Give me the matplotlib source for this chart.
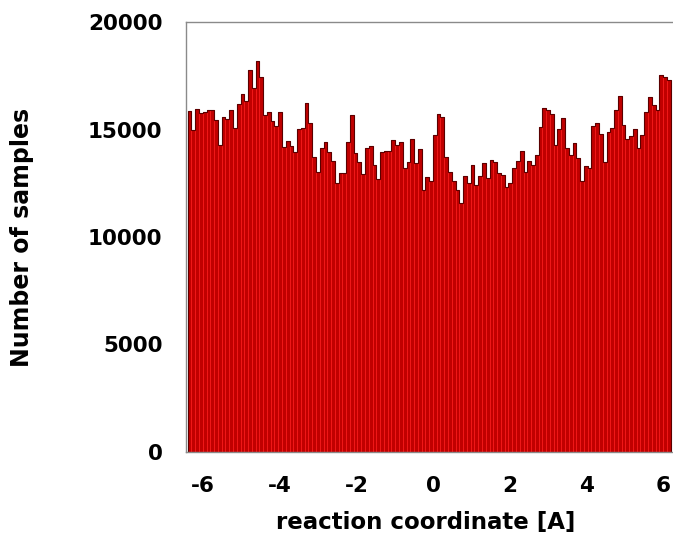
import numpy as np
import matplotlib
matplotlib.use("Agg")
import matplotlib.pyplot as plt

# histogram of samples along the reaction coordinate (128 bins, -6.4 .. 6.2)
bin_lo = -6.4
bin_hi = 6.2
counts = [
    15860, 14980, 15950, 15750, 15800, 15900, 15900, 15440, 14280, 15600,
    15500, 15900, 15070, 16200, 16630, 16330, 17770, 16950, 18190, 17460,
    15670, 15830, 15400, 15180, 15800, 14200, 14470, 14250, 13970, 15020,
    15090, 16250, 15290, 13740, 13040, 14150, 14400, 13970, 13530, 12500,
    13000, 13000, 14430, 15670, 13890, 13500, 12910, 14150, 14250, 13350,
    12700, 13970, 13980, 13980, 14510, 14280, 14400, 13190, 13470, 14540,
    13430, 14090, 12200, 12800, 12600, 14740, 15700, 15600, 13700, 13040,
    12600, 12200, 11600, 12840, 12500, 13350, 12420, 12840, 13430, 12730,
    13580, 13500, 12960, 12880, 12340, 12500, 13200, 13550, 14000, 13040,
    13550, 13350, 13810, 15130, 16000, 15900, 15700, 14270, 15030, 15530,
    14120, 13800, 14360, 13680, 12600, 13300, 13190, 15150, 15280, 14790,
    13480, 14880, 15070, 15910, 16560, 15210, 14550, 14700, 15020, 14120,
    14740, 15800, 16530, 16140, 15910, 17530, 17450, 17300,
]
xticks = [-6, -4, -2, 0, 2, 4, 6]
yticks = [0, 5000, 10000, 15000, 20000]

counts = np.array(counts)
edges = np.linspace(bin_lo, bin_hi, len(counts) + 1)
width = edges[1] - edges[0]

fig = plt.figure(figsize=(6.73, 5.37), dpi=100)
ax = fig.add_axes([186 / 673, 1 - 452 / 537, 1 - 186 / 673, 430 / 537])

ax.bar(edges[:-1], counts, width=width, align='edge',
       color='#c00000', edgecolor='#f01818', linewidth=0.7)
ax.stairs(counts, edges, color='#5a0000', linewidth=0.8)

ax.set_xlim(-6.444, 6.261)
ax.set_ylim(0, 20000)
ax.set_xticks(xticks)
ax.set_yticks(yticks)
ax.set_xticklabels([str(t) for t in xticks])
ax.tick_params(length=0, labelsize=15.5)
ax.tick_params(axis='y', pad=17)
ax.tick_params(axis='x', pad=17)
for lab in ax.get_xticklabels() + ax.get_yticklabels():
    lab.set_fontweight('bold')

for side in ['left', 'top', 'bottom']:
    ax.spines[side].set_color('#8a8a8a')
    ax.spines[side].set_linewidth(1.0)
ax.spines['right'].set_visible(False)

fig.text(426 / 673, 1 - 523 / 537, 'reaction coordinate [A]',
         ha='center', va='center', fontsize=16.5, fontweight='bold')
fig.text(22 / 673, 1 - 237 / 537, 'Number of samples', rotation=90,
         ha='center', va='center', fontsize=17, fontweight='bold')

fig.savefig('out.png', dpi=100)
